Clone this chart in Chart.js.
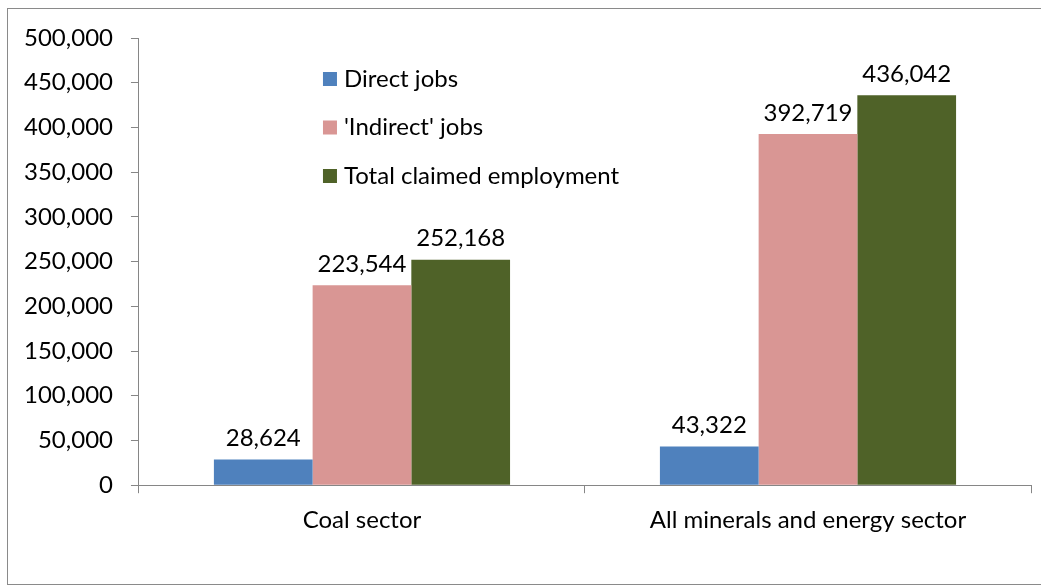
<!DOCTYPE html>
<html>
<head>
<meta charset="utf-8">
<script src="https://cdn.jsdelivr.net/npm/chart.js@4"></script>
<style>
  html, body { margin: 0; padding: 0; background: #fff; }
  #wrap { position: relative; width: 1041px; height: 585px; }
  #frame { position: absolute; left: 7px; top: 8px; width: 1040px; height: 577px; border: 1px solid #8a8a8a; box-sizing: border-box; }
  canvas { position: absolute; left: 0; top: 0; }
</style>
</head>
<body>
<div id="wrap">
  <div id="frame"></div>
  <canvas id="jobsChart" width="1041" height="585"></canvas>
</div>
<script>
var sectors = ['Coal sector', 'All minerals and energy sector'];
var directJobs = [28624, 43322];
var indirectJobs = [223544, 392719];
var totalJobs = [252168, 436042];
var seriesNames = ['Direct jobs', "'Indirect' jobs", 'Total claimed employment'];
var yTicks = [0, 50000, 100000, 150000, 200000, 250000, 300000, 350000, 400000, 450000, 500000];

var fontFamily = 'Lato, "Open Sans", sans-serif';
var fontSize = 24;
var fmt = function (v) { return v.toLocaleString('en-US'); };

// legend drawn inside the plot area, like the original
var insideLegend = {
    id: 'insideLegend',
    afterDraw: function (chart) {
        var c = chart.ctx, a = chart.chartArea;
        c.save();
        c.font = fontSize + 'px ' + fontFamily;
        c.textBaseline = 'middle';
        chart.data.datasets.forEach(function (ds, i) {
            var x = a.left + 184, y = a.top + 41 + i * 48.5;
            c.fillStyle = ds.backgroundColor;
            c.fillRect(x, y - 7, 14, 14);
            c.fillStyle = '#000';
            c.fillText(ds.label, x + 21, y);
        });
        c.restore();
    }
};

// value labels above each bar
var barValues = {
    id: 'barValues',
    afterDatasetsDraw: function (chart) {
        var c = chart.ctx;
        c.save();
        c.font = fontSize + 'px ' + fontFamily;
        c.fillStyle = '#000';
        c.textAlign = 'center';
        c.textBaseline = 'bottom';
        chart.data.datasets.forEach(function (ds, i) {
            chart.getDatasetMeta(i).data.forEach(function (bar, j) {
                c.fillText(fmt(ds.data[j]), bar.x, bar.y - 9);
            });
        });
        c.restore();
    }
};

new Chart(document.getElementById('jobsChart'), {
    type: 'bar',
    data: {
        labels: sectors,
        datasets: [
            { label: seriesNames[0], data: directJobs, backgroundColor: '#4F81BD' },
            { label: seriesNames[1], data: indirectJobs, backgroundColor: '#D99694' },
            { label: seriesNames[2], data: totalJobs, backgroundColor: '#4F6228' }
        ]
    },
    options: {
        responsive: false,
        animation: false,
        layout: { padding: { left: 6, right: 10, top: 38, bottom: 37 } },
        datasets: { bar: { categoryPercentage: 0.664, barPercentage: 1.0 } },
        plugins: {
            legend: { display: false },
            tooltip: { enabled: false }
        },
        scales: {
            x: {
                border: { display: true, color: '#868686', width: 1 },
                grid: { display: true, drawOnChartArea: false, offset: true, tickLength: 8, color: '#868686' },
                ticks: { color: '#000', font: { family: fontFamily, size: fontSize }, padding: 13 }
            },
            y: {
                min: 0,
                max: 500000,
                afterBuildTicks: function (axis) {
                    axis.ticks = yTicks.map(function (v) { return { value: v }; });
                },
                border: { display: true, color: '#868686', width: 1 },
                grid: { display: true, drawOnChartArea: false, tickLength: 8, color: '#868686' },
                ticks: {
                    color: '#000',
                    font: { family: fontFamily, size: fontSize },
                    padding: 18,
                    callback: function (v) { return fmt(v); }
                }
            }
        }
    },
    plugins: [insideLegend, barValues]
});
</script>
</body>
</html>
